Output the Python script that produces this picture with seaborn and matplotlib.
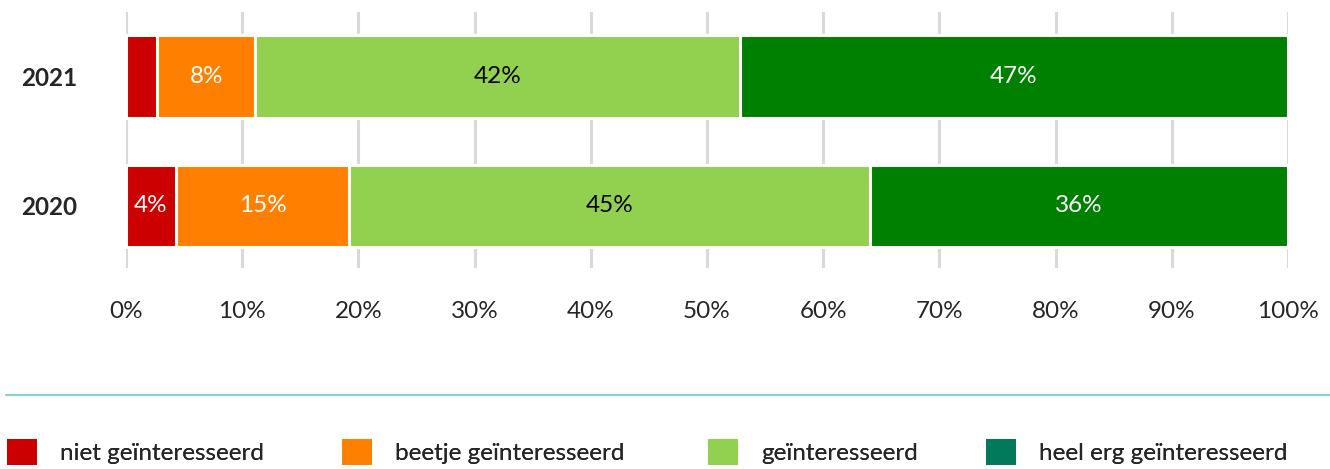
import matplotlib
matplotlib.use('Agg')
import matplotlib.pyplot as plt
import seaborn as sns
import pandas as pd
import numpy as np
from matplotlib.patches import Patch
from matplotlib.lines import Line2D

years = ['2021', '2020']
categories = ['niet geïnteresseerd', 'beetje geïnteresseerd', 'geïnteresseerd', 'heel erg geïnteresseerd']
v_niet = [2.7, 4.3]
v_beetje = [8.4, 14.9]
v_gein = [41.7, 44.8]
v_heel = [47.2, 36.0]
labels_niet = ['', '4%']
labels_beetje = ['8%', '15%']
labels_gein = ['42%', '45%']
labels_heel = ['47%', '36%']

bar_colors = ['#CC0000', '#FF8000', '#92D050', '#008000']
legend_colors = ['#CC0000', '#FF8000', '#92D050', '#007A58']
text_colors = ['white', 'white', 'black', 'white']
FS = 17.5

sns.set_style('white')
plt.rcParams['font.family'] = ['Lato', 'DejaVu Sans']

fig = plt.figure(figsize=(13.3, 4.69), dpi=100)
ax = fig.add_axes([126 / 1330, 1 - 268 / 469, (1288 - 126) / 1330, (268 - 12) / 469])

vals = np.array([v_niet, v_beetje, v_gein, v_heel])
labs = [labels_niet, labels_beetje, labels_gein, labels_heel]
cum = vals.cumsum(axis=0)

# draw cumulative bars, widest first, so each visible piece is one segment
for i in range(len(categories) - 1, -1, -1):
    df = pd.DataFrame({'year': years, 'end': cum[i]})
    sns.barplot(data=df, x='end', y='year', order=years, color=bar_colors[i],
                saturation=1, width=0.64, edgecolor='white', linewidth=2.2, ax=ax)

for i in range(len(categories)):
    for j, y in enumerate(years):
        if labs[i][j]:
            start = cum[i][j] - vals[i][j]
            ax.text(start + vals[i][j] / 2, j, labs[i][j], ha='center', va='center',
                    color=text_colors[i], fontsize=FS)

ax.set_xlim(0, 100)
ax.set_ylim(1.48, -0.5)
ax.set_xticks(np.arange(0, 101, 10))
ax.set_xticklabels([f'{t}%' for t in range(0, 101, 10)], fontsize=FS)
ax.set_yticks([0, 1])
ax.set_yticklabels(years, fontsize=FS, fontweight='bold')
ax.set_xlabel('')
ax.set_ylabel('')
ax.grid(axis='x', color='#D9D9D9', linewidth=2.2)
ax.grid(axis='y', visible=False)
ax.set_axisbelow(True)
for s in ax.spines.values():
    s.set_visible(False)
ax.tick_params(axis='x', length=0, pad=24)
ax.tick_params(axis='y', length=0, pad=35)

fig.add_artist(Line2D([6 / 1330, 1], [1 - 395 / 469, 1 - 395 / 469],
                      color='#8DD0CD', linewidth=1.6))

# one legend entry per slot so the columns line up with the reference
slot_x = [7, 342, 708, 986]
for cat, col, sx in zip(categories, legend_colors, slot_x):
    leg = fig.legend([Patch(facecolor=col, edgecolor='none')], [cat],
                     loc='center left', bbox_to_anchor=(sx / 1330, 1 - 452 / 469),
                     frameon=False, fontsize=FS, handlelength=1.25, handleheight=1.25,
                     handletextpad=0.95, borderaxespad=0, borderpad=0)
    fig.add_artist(leg)

fig.savefig('out.png', dpi=100)
